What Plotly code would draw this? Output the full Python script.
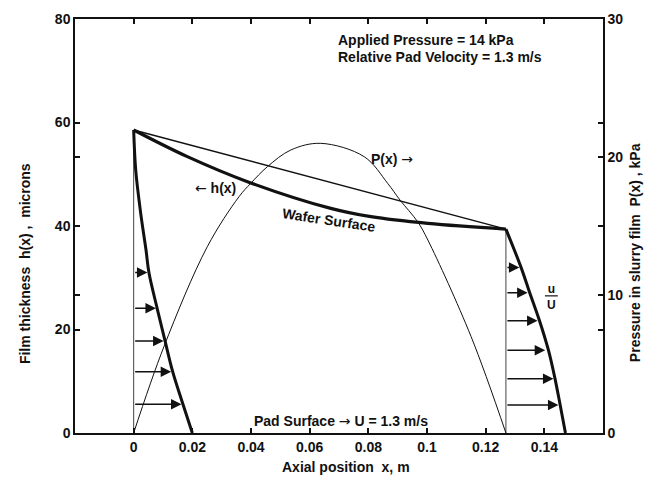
import plotly.graph_objects as go

# ---- data ----
# wafer surface h(x), microns
wafer_x = [0.0, 0.0183, 0.0388, 0.0672, 0.0809, 0.1003, 0.1269]
wafer_h = [58.55, 53.4, 48.56, 43.4, 41.8, 40.5, 39.4]

# straight chord between pad ends
chord_x = [0.0, 0.1269]
chord_h = [58.55, 39.4]

# pressure in slurry film P(x), kPa
p_x = [0.0, 0.0103, 0.0251, 0.0359, 0.0399, 0.0456, 0.0536, 0.0638,
       0.0786, 0.0866, 0.0908, 0.0968, 0.1003, 0.1150, 0.1269]
p_kpa = [0.0, 6.25, 13.5, 17.12, 18.09, 19.30, 20.51, 20.99,
         20.02, 18.09, 16.88, 15.31, 13.98, 7.0, 0.0]

# inlet (x = 0) velocity profile
inlet_prof_x = [0.0, 0.0007, 0.0024, 0.0042, 0.0052, 0.0080, 0.0107, 0.0133, 0.0168, 0.0200]
inlet_prof_h = [58.55, 50.8, 42.45, 35.4, 31.0, 24.1, 17.8, 11.85, 5.55, 0.0]
inlet_arrow_h = [31.0, 24.1, 17.8, 11.85, 5.55]
inlet_arrow_tip = [0.0047, 0.0076, 0.0102, 0.0128, 0.0163]

# outlet (x = 0.127) velocity profile
outlet_prof_x = [0.1269, 0.1320, 0.1349, 0.1383, 0.1414, 0.1436, 0.1454, 0.1472]
outlet_prof_h = [39.4, 32.1, 27.3, 21.8, 16.0, 10.6, 5.4, 0.0]
outlet_arrow_h = [32.0, 27.1, 21.7, 16.0, 10.5, 5.4]
outlet_arrow_tip = [0.1315, 0.1343, 0.1377, 0.1403, 0.1431, 0.1448]

# axis ticks
x_ticks = [0, 0.02, 0.04, 0.06, 0.08, 0.1, 0.12, 0.14]
x_ticklabels = ["0", "0.02", "0.04", "0.06", "0.08", "0.1", "0.12", "0.14"]
h_ticks = [0, 20, 40, 60, 80]
p_ticks = [0, 10, 20, 30]

FONT = "Liberation Sans, Arial, sans-serif"
BLACK = "#111111"
LARR = '<span style="font-family:DejaVu Sans;font-weight:normal">\u2190</span>'
RARR = '<span style="font-family:DejaVu Sans;font-weight:normal">\u2192</span>'

fig = go.Figure()

# vertical boundaries of the film
fig.add_trace(go.Scatter(x=[chord_x[0], chord_x[0]], y=[0, chord_h[0]], mode="lines",
                         line=dict(color="#444444", width=1)))
fig.add_trace(go.Scatter(x=[chord_x[1], chord_x[1]], y=[0, chord_h[1]], mode="lines",
                         line=dict(color="#444444", width=1)))
# chord
fig.add_trace(go.Scatter(x=chord_x, y=chord_h, mode="lines",
                         line=dict(color=BLACK, width=1.5)))
# wafer surface
fig.add_trace(go.Scatter(x=wafer_x, y=wafer_h, mode="lines", line_shape="spline",
                         line=dict(color=BLACK, width=3.2)))
# velocity profiles
fig.add_trace(go.Scatter(x=inlet_prof_x, y=inlet_prof_h, mode="lines", line_shape="spline",
                         line=dict(color=BLACK, width=3)))
fig.add_trace(go.Scatter(x=outlet_prof_x, y=outlet_prof_h, mode="lines", line_shape="spline",
                         line=dict(color=BLACK, width=3)))
# pressure
fig.add_trace(go.Scatter(x=p_x, y=p_kpa, mode="lines", line_shape="spline", yaxis="y2",
                         line=dict(color=BLACK, width=1)))

annotations = []
for tip, h in zip(inlet_arrow_tip, inlet_arrow_h):
    annotations.append(dict(x=tip, y=h, ax=chord_x[0], ay=h, xref="x", yref="y",
                            axref="x", ayref="y", text="", showarrow=True,
                            arrowhead=2, arrowsize=1.4, arrowwidth=1.5, arrowcolor=BLACK))
for tip, h in zip(outlet_arrow_tip, outlet_arrow_h):
    annotations.append(dict(x=tip, y=h, ax=chord_x[1], ay=h, xref="x", yref="y",
                            axref="x", ayref="y", text="", showarrow=True,
                            arrowhead=2, arrowsize=1.4, arrowwidth=1.5, arrowcolor=BLACK))

tfont = dict(family=FONT, size=14, color=BLACK, weight="bold")
def txt(x, y, s, **kw):
    d = dict(x=x, y=y, xref="x", yref="y", text=s, showarrow=False, font=tfont)
    d.update(kw)
    annotations.append(d)

txt(0.0689, 75.9, "Applied Pressure = 14 kPa", xanchor="left")
txt(0.0689, 72.7, "Relative Pad Velocity = 1.3 m/s", xanchor="left")
txt(0.0280, 47.3, LARR + " h(x)")
txt(0.0879, 52.9, "P(x) " + RARR)
txt(0.0665, 41.2, "Wafer Surface", textangle=8.5)
txt(0.0706, 2.4, "Pad Surface " + RARR + " U = 1.3 m/s")
txt(0.1424, 26.3, "u<br>U", font=dict(family=FONT, size=12, color=BLACK, weight="bold"))

# axis titles
annotations.append(dict(x=0.513, y=-0.106, xref="paper", yref="paper", showarrow=False,
                        text="Axial position  x, m", font=tfont))
annotations.append(dict(x=-0.114, y=0.41, xref="paper", yref="paper", showarrow=False,
                        text="Film thickness  h(x) ,  microns", textangle=-90, font=tfont))
annotations.append(dict(x=1.08, y=0.435, xref="paper", yref="paper", showarrow=False,
                        text="Pressure in slurry film  P(x) , kPa", textangle=-90, font=tfont))

shapes = [dict(type="line", xref="x", yref="y", x0=0.1402, x1=0.1446, y0=26.5, y1=26.5,
               line=dict(color=BLACK, width=1.2))]

tickfont = dict(family=FONT, size=14, color=BLACK, weight="bold")
fig.update_layout(
    width=657, height=483,
    margin=dict(l=75, r=54, t=19, b=50),
    plot_bgcolor="white", paper_bgcolor="white",
    showlegend=False,
    annotations=annotations,
    shapes=shapes,
    xaxis=dict(range=[-0.02, 0.16], tickvals=x_ticks, ticktext=x_ticklabels,
               ticks="inside", ticklen=5, tickwidth=1.5, tickcolor=BLACK,
               showline=True, linecolor=BLACK, linewidth=2, mirror="ticks",
               showgrid=False, zeroline=False, tickfont=tickfont),
    yaxis=dict(range=[0, 80], tickvals=h_ticks,
               ticks="inside", ticklen=5, tickwidth=1.5, tickcolor=BLACK,
               showline=True, linecolor=BLACK, linewidth=1.5, mirror="ticks",
               showgrid=False, zeroline=False, tickfont=tickfont),
    yaxis2=dict(range=[0, 30], tickvals=p_ticks, overlaying="y", side="right",
                ticks="inside", ticklen=5, tickwidth=1.5, tickcolor=BLACK,
                showline=True, linecolor=BLACK, linewidth=1.5, mirror="ticks",
                showgrid=False, zeroline=False, tickfont=tickfont),
)

fig.write_html("out.html", config={"displayModeBar": False},
               post_script="document.body.style.margin='0';")
